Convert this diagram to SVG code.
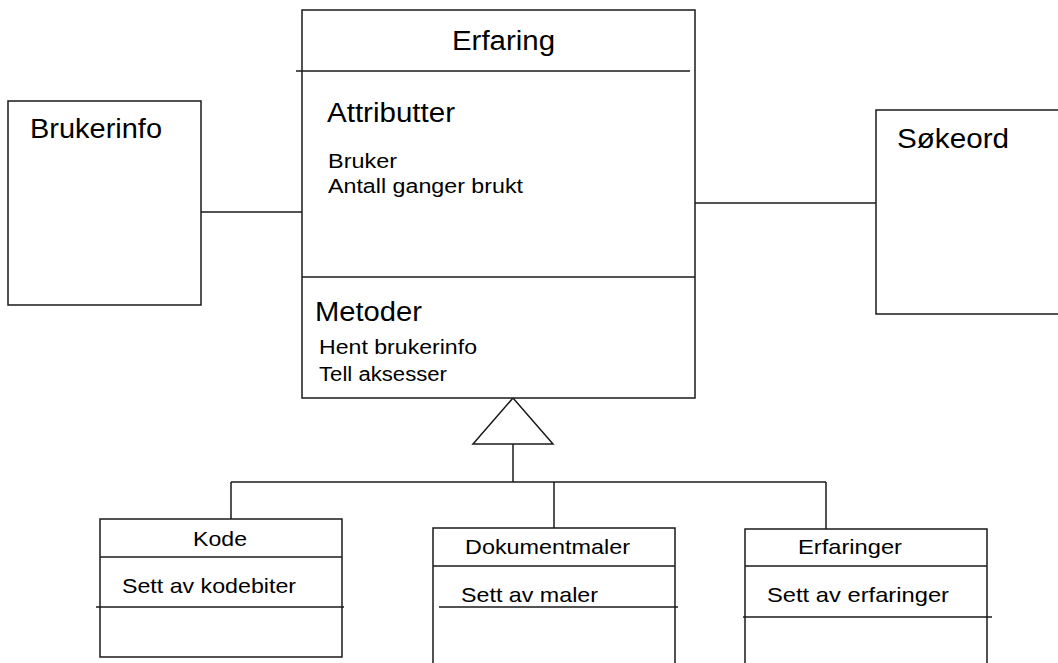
<svg xmlns="http://www.w3.org/2000/svg" width="1058" height="663" viewBox="0 0 1058 663">
  <style>
    .box { fill: #ffffff; stroke: #1a1a1a; stroke-width: 1.5; }
    .ln { fill: none; stroke: #1a1a1a; stroke-width: 1.5; }
    text { font-family: "Liberation Sans", Arial, sans-serif; fill: #000000; }
    .big { font-size: 27px; }
    .attr { font-size: 20px; }
    .sub { font-size: 21px; }
  </style>
  <rect width="1058" height="663" fill="#ffffff"/>

  <!-- associations and generalisation -->
  <g id="connectors">
    <line class="ln" x1="201" y1="212" x2="302" y2="212"/>
    <line class="ln" x1="695" y1="203" x2="876" y2="203"/>
    <polygon class="box" points="513,398 553,444 473,444"/>
    <line class="ln" x1="513" y1="444" x2="513" y2="482"/>
    <line class="ln" x1="231" y1="482" x2="826" y2="482"/>
    <line class="ln" x1="231" y1="482" x2="231" y2="519"/>
    <line class="ln" x1="554" y1="482" x2="554" y2="528"/>
    <line class="ln" x1="826" y1="482" x2="826" y2="529"/>
  </g>

  <g id="erfaring">
    <rect class="box" x="302" y="10" width="393" height="388"/>
    <line class="ln" x1="296" y1="71" x2="690" y2="71"/>
    <line class="ln" x1="302" y1="277" x2="695" y2="277"/>
    <text class="big" x="452" y="50" textLength="103" lengthAdjust="spacingAndGlyphs">Erfaring</text>
    <text class="big" x="327" y="122" textLength="128" lengthAdjust="spacingAndGlyphs">Attributter</text>
    <text class="attr" x="328" y="168" textLength="69" lengthAdjust="spacingAndGlyphs">Bruker</text>
    <text class="attr" x="328" y="193" textLength="195" lengthAdjust="spacingAndGlyphs">Antall ganger brukt</text>
    <text class="big" x="315" y="321" textLength="107" lengthAdjust="spacingAndGlyphs">Metoder</text>
    <text class="attr" x="319" y="354" textLength="158" lengthAdjust="spacingAndGlyphs">Hent brukerinfo</text>
    <text class="attr" x="319" y="381" textLength="128" lengthAdjust="spacingAndGlyphs">Tell aksesser</text>
  </g>

  <g id="brukerinfo">
    <rect class="box" x="8" y="101" width="193" height="204"/>
    <text class="big" x="30" y="138" textLength="132" lengthAdjust="spacingAndGlyphs">Brukerinfo</text>
  </g>

  <g id="sokeord">
    <rect class="box" x="876" y="110" width="190" height="204"/>
    <text class="big" x="897" y="148" textLength="112" lengthAdjust="spacingAndGlyphs">Søkeord</text>
  </g>

  <g id="kode">
    <rect class="box" x="100" y="519" width="242" height="138"/>
    <line class="ln" x1="100" y1="557" x2="342" y2="557"/>
    <line class="ln" x1="96" y1="607" x2="344" y2="607"/>
    <text class="sub" x="193" y="546" textLength="54" lengthAdjust="spacingAndGlyphs">Kode</text>
    <text class="sub" x="122" y="593" textLength="174" lengthAdjust="spacingAndGlyphs">Sett av kodebiter</text>
  </g>

  <g id="dokumentmaler">
    <rect class="box" x="433" y="528" width="242" height="150"/>
    <line class="ln" x1="433" y1="566" x2="675" y2="566"/>
    <line class="ln" x1="439" y1="607" x2="678" y2="607"/>
    <text class="sub" x="465" y="554" textLength="165" lengthAdjust="spacingAndGlyphs">Dokumentmaler</text>
    <text class="sub" x="461" y="602" textLength="137" lengthAdjust="spacingAndGlyphs">Sett av maler</text>
  </g>

  <g id="erfaringer">
    <rect class="box" x="745" y="529" width="242" height="150"/>
    <line class="ln" x1="745" y1="566" x2="987" y2="566"/>
    <line class="ln" x1="743" y1="617" x2="992" y2="617"/>
    <text class="sub" x="798" y="554" textLength="104" lengthAdjust="spacingAndGlyphs">Erfaringer</text>
    <text class="sub" x="767" y="602" textLength="182" lengthAdjust="spacingAndGlyphs">Sett av erfaringer</text>
  </g>
</svg>
